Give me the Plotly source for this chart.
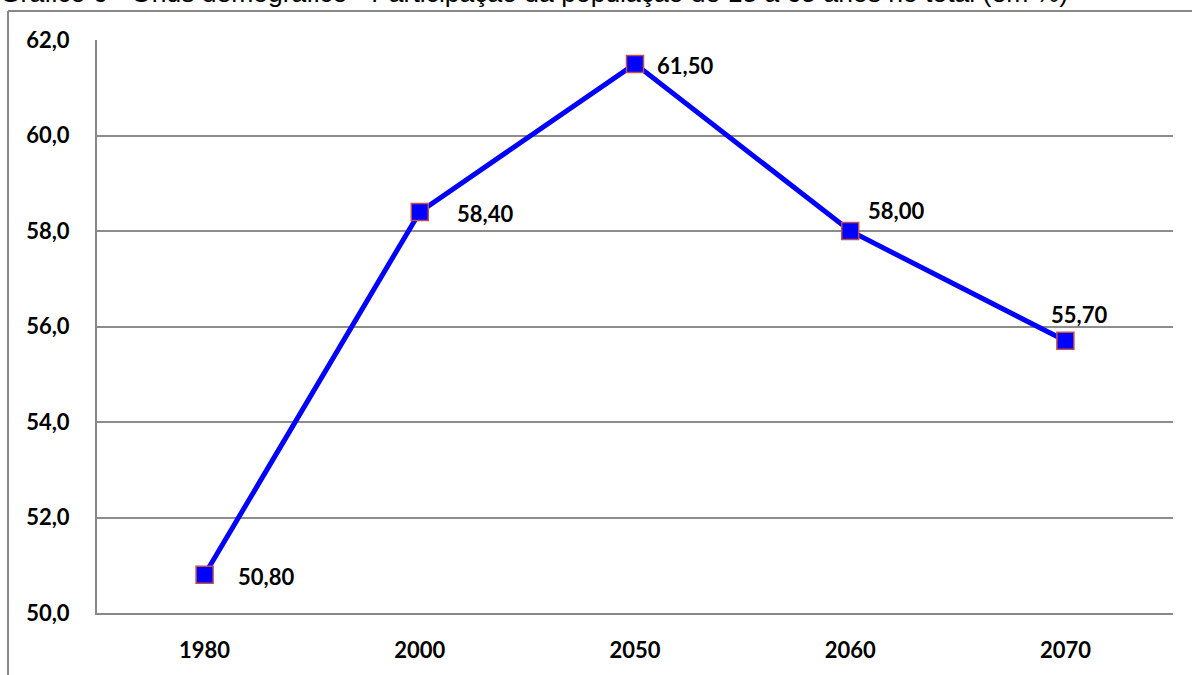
import plotly.graph_objects as go

anos = ["1980", "2000", "2050", "2060", "2070"]
participacao = [50.8, 58.4, 61.5, 58.0, 55.7]
rotulos = ["50,80", "58,40", "61,50", "58,00", "55,70"]
titulo = "Gráfico 6 - Ônus demográfico - Participação da população de 15 a 65 anos no total (em %)"

# label offsets (pixels): xshift, yshift, xanchor
label_pos = [(31, -2, "left"), (35, -2, "left"), (20, -2, "left"), (16, 21, "left"), (-16, 26, "left")]

fig = go.Figure()
fig.add_trace(go.Scatter(
    x=anos, y=participacao, mode="lines+markers",
    line=dict(color="#0000ff", width=5),
    marker=dict(symbol="square", size=17, color="#0000ff",
                line=dict(color="#c0504d", width=1.5)),
    hoverinfo="skip", showlegend=False,
))

annotations = []
for i, (v, t, (dx, dy, anc)) in enumerate(zip(participacao, rotulos, label_pos)):
    annotations.append(dict(
        x=i, y=v, xref="x", yref="y", text=t, showarrow=False,
        xanchor=anc, yanchor="middle", xshift=dx, yshift=dy,
        font=dict(family="Lato", size=22, color="#000000", weight="bold"),
    ))
annotations.append(dict(
    x=-0.092, y=1, xref="paper", yref="paper", text=titulo, showarrow=False,
    xanchor="left", yanchor="bottom", yshift=30,
    font=dict(family="Liberation Sans", size=26.5, color="#000000"),
))

shapes = [
    dict(type="line", xref="paper", yref="paper", x0=-0.0827, x1=1.1, y0=1.0506, y1=1.0506,
         line=dict(color="#888888", width=2)),
    dict(type="line", xref="paper", yref="paper", x0=-0.0827, x1=-0.0827, y0=1.0506, y1=-0.2,
         line=dict(color="#888888", width=2)),
]

fig.update_layout(
    width=1192, height=675,
    margin=dict(l=97, r=19, t=40, b=62),
    paper_bgcolor="white", plot_bgcolor="white",
    separators=",.",
    annotations=annotations, shapes=shapes,
    xaxis=dict(type="category", range=[-0.5, 4.5], showgrid=False,
               showline=True, linecolor="#888888", linewidth=2, ticks="",
               ticklabelstandoff=17,
               tickfont=dict(family="Lato", size=22, color="#000000", weight="bold")),
    yaxis=dict(range=[50, 62], dtick=2, tickformat=".1f", showgrid=True,
               gridcolor="#8c8c8c", gridwidth=1.5, zeroline=False,
               showline=True, linecolor="#888888", linewidth=2, ticks="",
               ticklabelstandoff=21,
               tickfont=dict(family="Lato", size=22, color="#000000", weight="bold")),
)

fig.write_html("out.html")
